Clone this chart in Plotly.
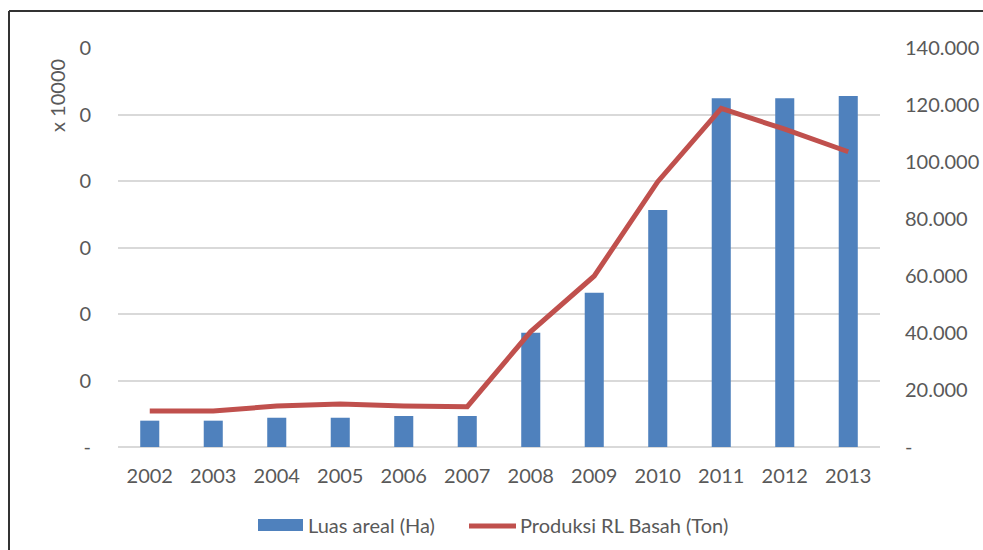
import plotly.graph_objects as go

# Data
years = ["2002", "2003", "2004", "2005", "2006", "2007",
         "2008", "2009", "2010", "2011", "2012", "2013"]
luas_areal = [198, 198, 220, 220, 233, 233, 859, 1160, 1782, 2622, 2622, 2639]
produksi = [12600, 12600, 14400, 15100, 14400, 14150,
            40500, 60000, 93100, 118800, 111500, 103600]

left_ticks = [0, 500, 1000, 1500, 2000, 2500, 3000]
left_labels = ["-", "0", "0", "0", "0", "0", "0"]
right_ticks = [0, 20000, 40000, 60000, 80000, 100000, 120000, 140000]
right_labels = ["-", "20.000", "40.000", "60.000", "80.000", "100.000", "120.000", "140.000"]

BLUE = "#4f81bd"
RED = "#c0504d"
GRID = "#d9d9d9"
TXT = "#595959"
FONT = "Lato"
FS = 20

W, H = 983, 550
L, R, T, B = 118, 103, 48, 103
pw, ph = W - L - R, H - T - B


def px(x):
    return (x - L) / pw


def py(y):
    return (H - B - y) / ph


fig = go.Figure()
fig.add_trace(go.Bar(x=years, y=luas_areal, name="Luas areal (Ha)",
                     marker=dict(color=BLUE, line=dict(width=0)),
                     yaxis="y", showlegend=False))
fig.add_trace(go.Scatter(x=years, y=produksi, name="Produksi RL Basah (Ton)",
                         mode="lines", line=dict(color=RED, width=5),
                         yaxis="y2", showlegend=False))

shapes = [
    # outer frame (left and top edges)
    dict(type="line", xref="paper", yref="paper", x0=px(9), x1=px(9),
         y0=py(560), y1=py(11), line=dict(color="#333333", width=2)),
    dict(type="line", xref="paper", yref="paper", x0=px(9), x1=px(990),
         y0=py(11), y1=py(11), line=dict(color="#333333", width=2)),
    # legend symbols
    dict(type="rect", xref="paper", yref="paper", x0=px(258), x1=px(303),
         y0=py(531), y1=py(519), fillcolor=BLUE, line=dict(width=0)),
    dict(type="line", xref="paper", yref="paper", x0=px(469), x1=px(516),
         y0=py(526), y1=py(526), line=dict(color=RED, width=5)),
]
annotations = [
    dict(xref="paper", yref="paper", x=px(306), y=py(525), xanchor="left",
         yanchor="middle", showarrow=False, text="Luas areal (Ha)",
         font=dict(family=FONT, size=FS, color=TXT)),
    dict(xref="paper", yref="paper", x=px(518), y=py(525), xanchor="left",
         yanchor="middle", showarrow=False, text="Produksi RL Basah (Ton)",
         font=dict(family=FONT, size=FS, color=TXT)),
    # display-unit label of the left axis
    dict(xref="paper", yref="paper", x=px(57), y=py(95), xanchor="center",
         yanchor="middle", showarrow=False, text="x 10000", textangle=-90,
         font=dict(family=FONT, size=FS, color=TXT)),
]

fig.update_layout(
    width=W, height=H,
    margin=dict(l=L, r=R, t=T, b=B),
    paper_bgcolor="white", plot_bgcolor="white",
    bargap=0.7,
    font=dict(family=FONT, size=FS, color=TXT),
    xaxis=dict(type="category", range=[-0.5, 11.5], showgrid=False,
               showline=False, ticks="", tickfont=dict(size=FS, color=TXT),
               ticklabelstandoff=15, automargin=False),
    yaxis=dict(range=[0, 3000], tickvals=left_ticks, ticktext=left_labels,
               showgrid=True, gridcolor=GRID, gridwidth=1.5, zeroline=True,
               zerolinecolor=GRID, zerolinewidth=1.5, showline=False,
               tickfont=dict(size=FS, color=TXT), ticklabelstandoff=26,
               automargin=False),
    yaxis2=dict(range=[0, 140000], tickvals=right_ticks, ticktext=right_labels,
                overlaying="y", side="right", showgrid=False, zeroline=False,
                showline=False, tickfont=dict(size=FS, color=TXT),
                ticklabelstandoff=24, automargin=False),
    shapes=shapes,
    annotations=annotations,
)

fig.write_html("out.html")
